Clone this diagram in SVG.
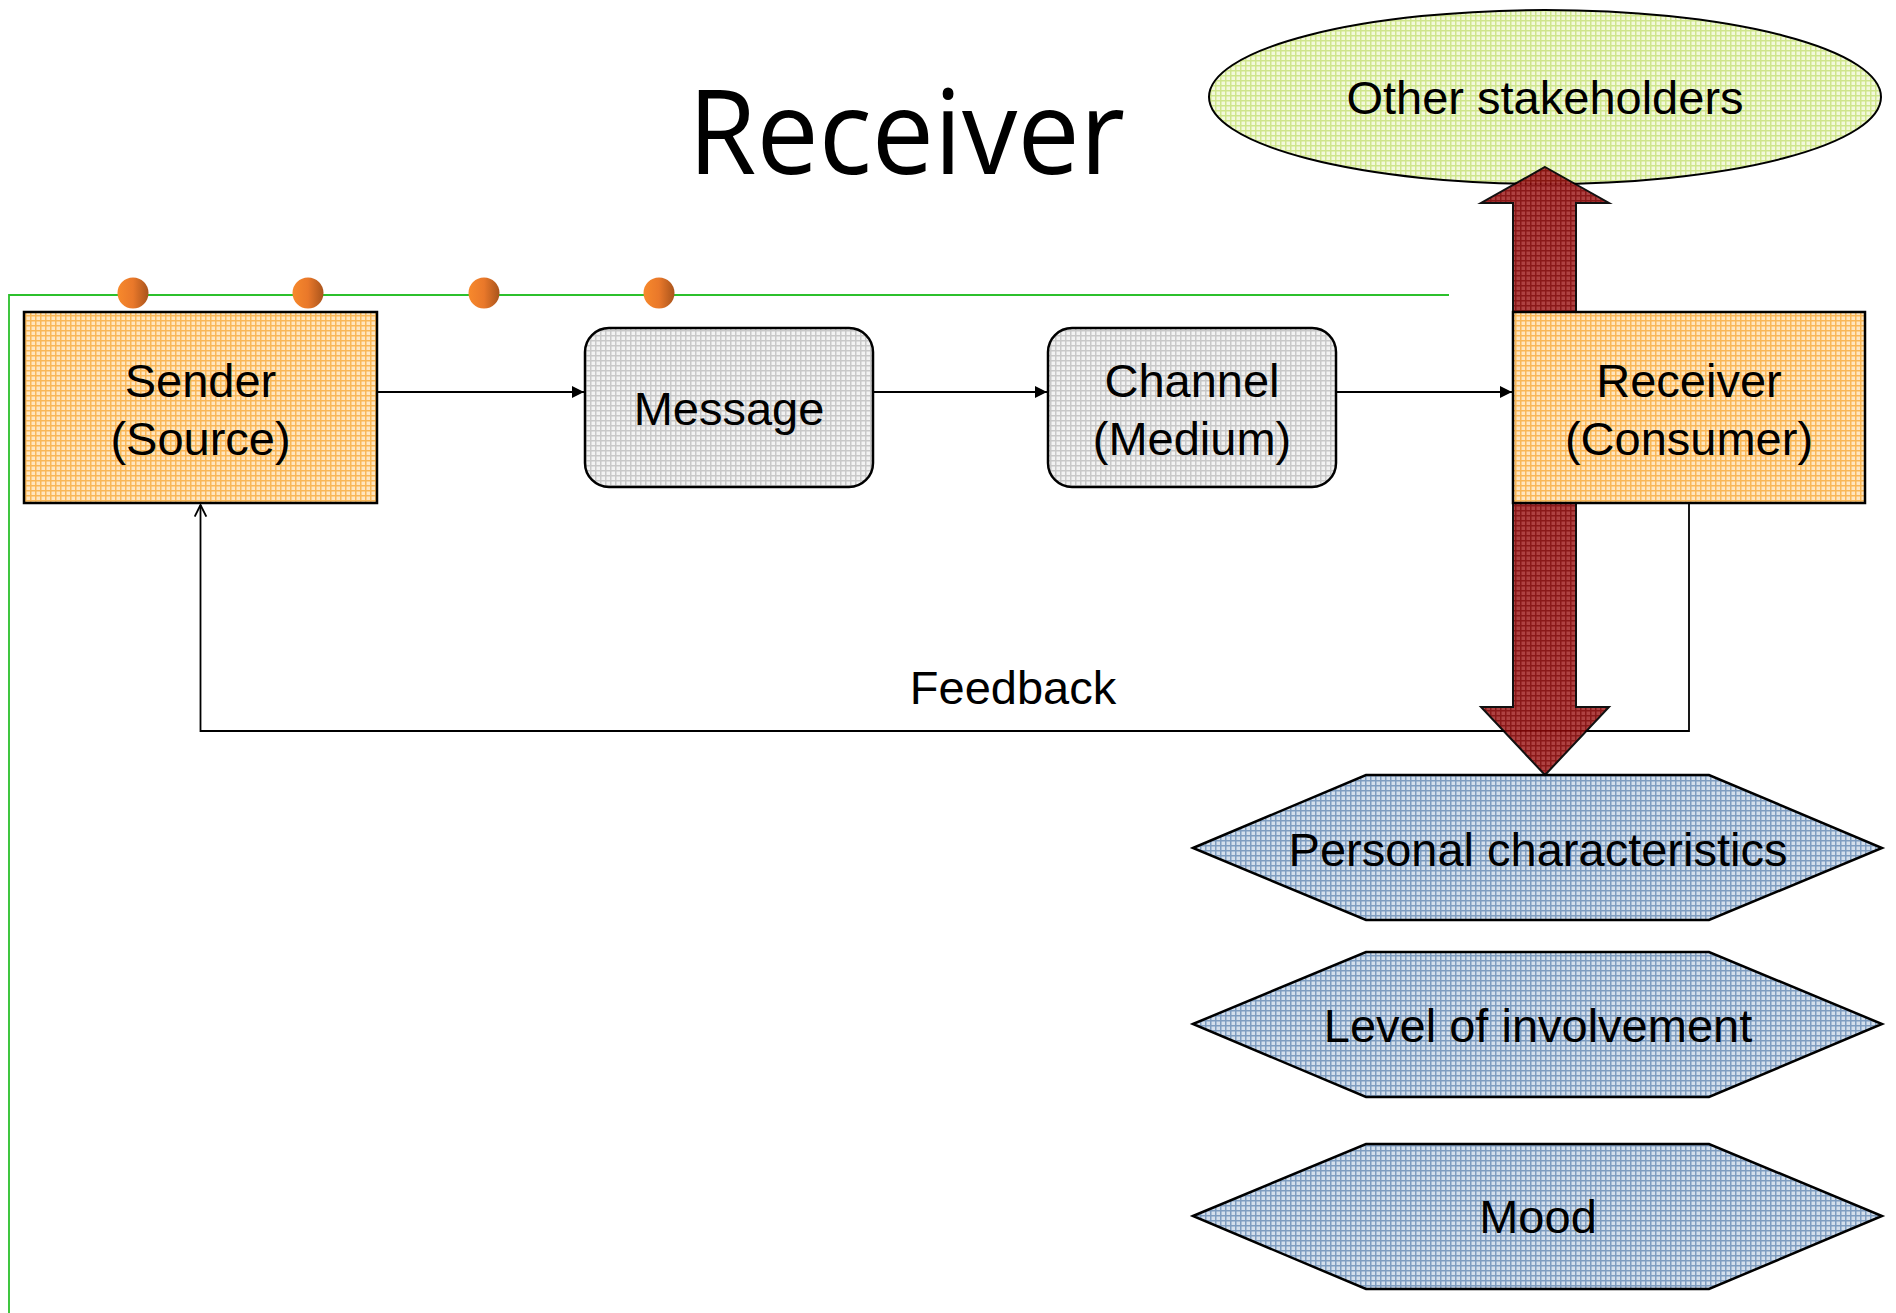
<svg xmlns="http://www.w3.org/2000/svg" width="1896" height="1313" viewBox="0 0 1896 1313">
  <style>
    .lbl { font-family: "Liberation Sans", Arial, sans-serif; font-size: 47px; fill: #000; text-anchor: middle; }
    .title { font-family: "Open Sans", "DejaVu Sans", sans-serif; font-size: 117px; fill: #000; }
    .box { stroke: #000; stroke-width: 2.5; }
    .conn { fill: none; stroke: #000; stroke-width: 1.8; }
    .rail { fill: none; stroke: #2CC02C; stroke-width: 1.8; }
  </style>
  <defs>
    <!-- woven textures used as shape fills -->
    <pattern id="pOrange" width="5" height="5" patternUnits="userSpaceOnUse">
      <rect width="5" height="5" fill="#FFE6C0"/>
      <rect x="0" y="0" width="5" height="1.5" fill="#F9B757"/>
      <rect x="0" y="0" width="1.5" height="5" fill="#F9B757"/>
    </pattern>
    <pattern id="pGreen" width="5" height="5" patternUnits="userSpaceOnUse">
      <rect width="5" height="5" fill="#F3F9DC"/>
      <rect x="0" y="0" width="5" height="1.5" fill="#CFE58C"/>
      <rect x="0" y="0" width="1.5" height="5" fill="#CFE58C"/>
    </pattern>
    <pattern id="pRed" width="5" height="5" patternUnits="userSpaceOnUse">
      <rect width="5" height="5" fill="#A83434"/>
      <rect x="0" y="0" width="5" height="1.5" fill="#820808"/>
      <rect x="0" y="0" width="1.5" height="5" fill="#820808"/>
    </pattern>
    <pattern id="pBlue" width="5" height="5" patternUnits="userSpaceOnUse">
      <rect width="5" height="5" fill="#D4DFEC"/>
      <rect x="0" y="0" width="5" height="1.5" fill="#7F9DC0"/>
      <rect x="0" y="0" width="1.5" height="5" fill="#7F9DC0"/>
    </pattern>
    <pattern id="pGray" width="5" height="5" patternUnits="userSpaceOnUse">
      <rect width="5" height="5" fill="#F2F2F2"/>
      <rect x="0" y="0" width="5" height="1.5" fill="#C8C8C8"/>
      <rect x="0" y="0" width="1.5" height="5" fill="#C8C8C8"/>
    </pattern>
    <linearGradient id="gBead" x1="0" y1="0" x2="1" y2="0">
      <stop offset="0" stop-color="#F7892C"/>
      <stop offset="0.5" stop-color="#E9782A"/>
      <stop offset="1" stop-color="#A9541C"/>
    </linearGradient>
    <marker id="mFill" viewBox="0 0 10 10" refX="10" refY="5" markerWidth="12" markerHeight="12" markerUnits="userSpaceOnUse" orient="auto">
      <path d="M0,0 L10,5 L0,10 z" fill="#000"/>
    </marker>
    <marker id="mOpen" viewBox="0 0 12 12" refX="11" refY="6" markerWidth="14" markerHeight="14" markerUnits="userSpaceOnUse" orient="auto">
      <path d="M1,1 L11,6 L1,11" fill="none" stroke="#000" stroke-width="1.6"/>
    </marker>
  </defs>

  <rect width="1896" height="1313" fill="#fff"/>

  <!-- heading -->
  <text class="title" x="688" y="174" textLength="437" lengthAdjust="spacingAndGlyphs">Receiver</text>

  <!-- green rail with beads -->
  <g id="rail">
    <polyline class="rail" points="1449,295 9,295 9,1313"/>
    <circle cx="133" cy="293" r="15.5" fill="url(#gBead)"/>
    <circle cx="308" cy="293" r="15.5" fill="url(#gBead)"/>
    <circle cx="484" cy="293" r="15.5" fill="url(#gBead)"/>
    <circle cx="659" cy="293" r="15.5" fill="url(#gBead)"/>
  </g>

  <g id="stakeholders">
    <ellipse cx="1545" cy="97" rx="336" ry="87" fill="url(#pGreen)" stroke="#000" stroke-width="2"/>
    <text class="lbl" x="1545" y="114">Other stakeholders</text>
  </g>

  <g id="personal">
    <polygon class="box" points="1193,848 1366,775 1709,775 1882,848 1709,920 1366,920" fill="url(#pBlue)"/>
    <text class="lbl" x="1538" y="866">Personal characteristics</text>
  </g>
  <g id="involvement">
    <polygon class="box" points="1193,1024 1366,952 1709,952 1882,1024 1709,1097 1366,1097" fill="url(#pBlue)"/>
    <text class="lbl" x="1538" y="1042">Level of involvement</text>
  </g>
  <g id="mood">
    <polygon class="box" points="1193,1216 1366,1144 1709,1144 1882,1216 1709,1289 1366,1289" fill="url(#pBlue)"/>
    <text class="lbl" x="1538" y="1233">Mood</text>
  </g>

  <g id="connectors">
    <line class="conn" x1="377" y1="392" x2="584" y2="392" marker-end="url(#mFill)"/>
    <line class="conn" x1="873" y1="392" x2="1047" y2="392" marker-end="url(#mFill)"/>
    <line class="conn" x1="1336" y1="392" x2="1512" y2="392" marker-end="url(#mFill)"/>
    <polyline class="conn" points="1689,503 1689,731 200.5,731 200.5,505" marker-end="url(#mOpen)"/>
    <text class="lbl" x="1013" y="704">Feedback</text>
  </g>

  <!-- two-way influence arrow through the receiver -->
  <g id="influence">
    <polygon points="1545,167 1609,203 1576,203 1576,707 1609,707 1545,775 1481,707 1513,707 1513,203 1481,203" fill="url(#pRed)" stroke="#000" stroke-width="2" opacity="0.93"/>
  </g>

  <g id="sender">
    <rect class="box" x="24" y="312" width="353" height="191" fill="url(#pOrange)"/>
    <text class="lbl" x="200.5" y="397">Sender</text>
    <text class="lbl" x="200.5" y="455">(Source)</text>
  </g>

  <g id="message">
    <rect class="box" x="585" y="328" width="288" height="159" rx="24" ry="24" fill="url(#pGray)"/>
    <text class="lbl" x="729" y="425">Message</text>
  </g>

  <g id="channel">
    <rect class="box" x="1048" y="328" width="288" height="159" rx="24" ry="24" fill="url(#pGray)"/>
    <text class="lbl" x="1192" y="397">Channel</text>
    <text class="lbl" x="1192" y="455">(Medium)</text>
  </g>

  <g id="receiver">
    <rect class="box" x="1513" y="312" width="352" height="191" fill="url(#pOrange)"/>
    <text class="lbl" x="1689" y="397">Receiver</text>
    <text class="lbl" x="1689" y="455">(Consumer)</text>
  </g>
</svg>
